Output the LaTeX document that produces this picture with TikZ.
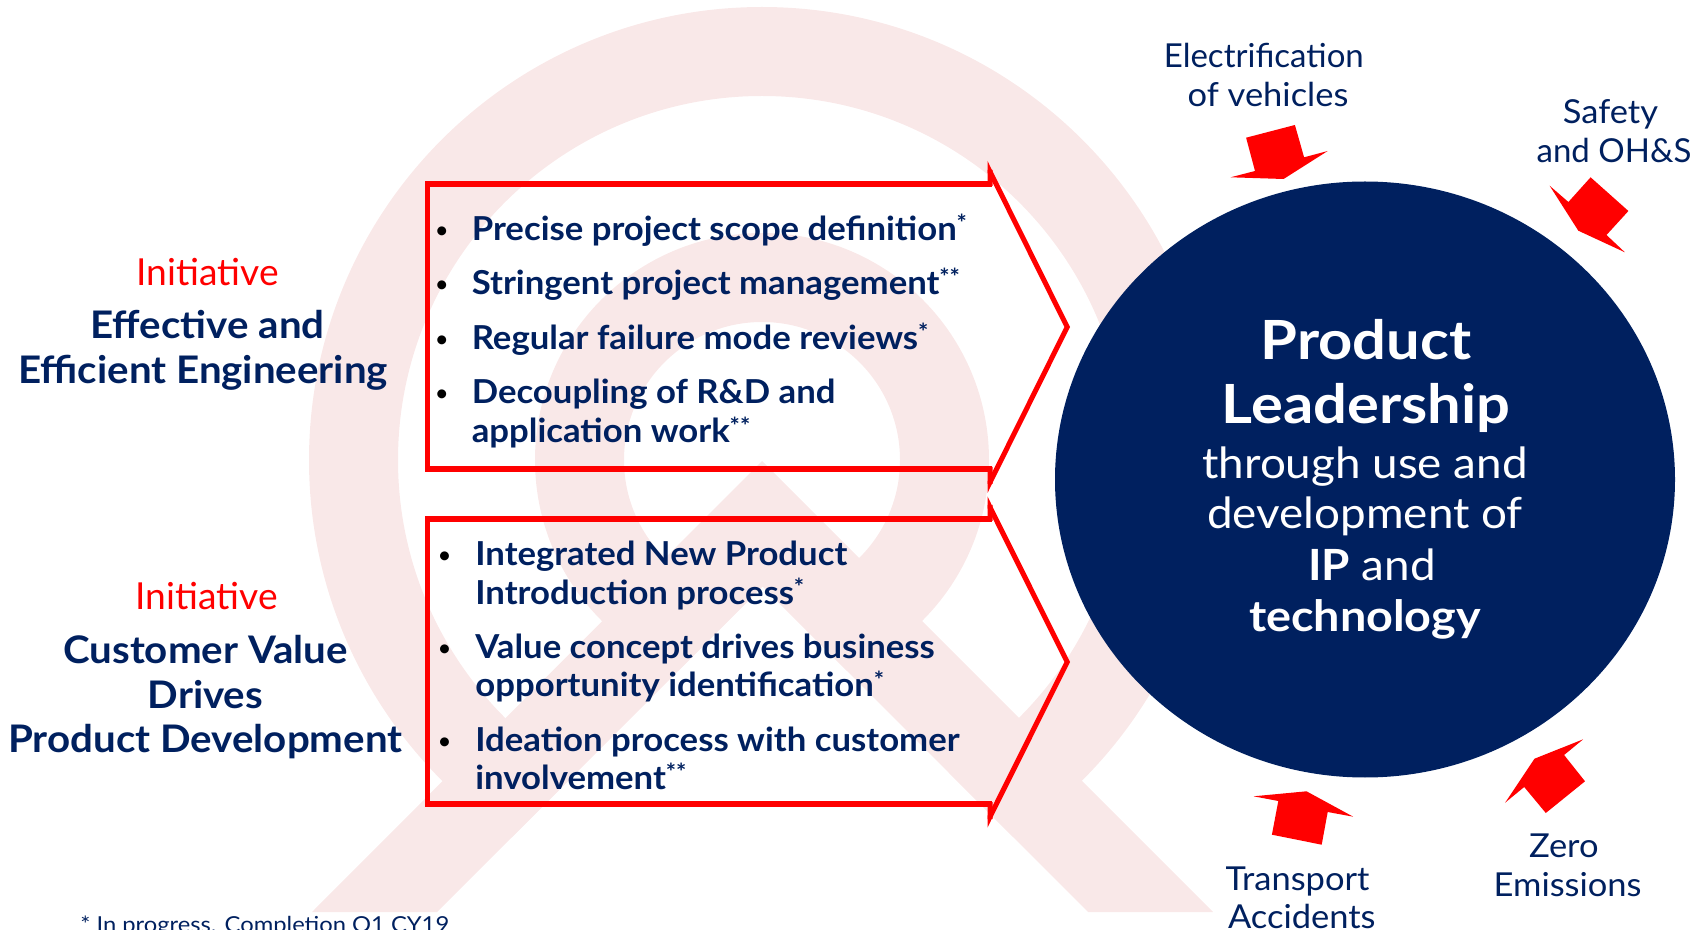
\documentclass[tikz,border=0pt]{standalone}
\usepackage{fontspec}
\setmainfont{Lato}
\newfontfamily\fItem[FakeStretch=1.052]{Lato}
\newfontfamily\fHead[FakeStretch=1.06]{Lato}
\newfontfamily\fBig[FakeStretch=1.105]{Lato}
\newfontfamily\fMid[FakeStretch=1.065]{Lato}
\newfontfamily\fTech[FakeStretch=1.087]{Lato}
\newfontfamily\fLab[FakeStretch=1.045]{Lato}
\newfontfamily\fFoot[FakeStretch=1.08]{Lato}
\definecolor{navy}{HTML}{00205F}
\definecolor{wm}{HTML}{F9E8E8}
\newcommand{\astr}[1]{\raisebox{0.26em}{\fontsize{11.5}{11.5}\selectfont #1}}
\tikzset{
 x=0.5pt,y=-0.5pt,
 lab/.style={anchor=base,inner sep=0,yshift=-0.5pt,text=navy,font=\fontsize{16.5}{18}\selectfont\fLab},
 labn/.style={lab,font=\fontsize{16.5}{18}\selectfont\rmfamily},
 head/.style={anchor=base,inner sep=0,yshift=-0.5pt,text=navy,font=\fontsize{19}{20}\selectfont\fHead\bfseries},
 init/.style={anchor=base,inner sep=0,yshift=-0.5pt,text=red,font=\fontsize{18.6}{20}\selectfont},
 item/.style={anchor=base west,inner sep=0,yshift=-0.5pt,text=navy,font=\fontsize{16.5}{18}\selectfont\fItem\bfseries},
 bul/.style={anchor=base,inner sep=0,yshift=0.6pt,text=black,font=\fontsize{12}{12}\selectfont},
 big/.style={anchor=base,inner sep=0,yshift=-0.5pt,text=white,font=\fontsize{27}{28}\selectfont\fBig\bfseries},
 mid/.style={anchor=base,inner sep=0,yshift=-0.3pt,text=white,font=\fontsize{21.5}{22}\selectfont\fMid},
 tech/.style={mid,font=\fontsize{21.5}{22}\selectfont\fTech\bfseries},
 redbar/.style={draw=red,line width=2.6pt,miter limit=10},
 wing/.style={fill=red},
 arr/.style={fill=red},
}
\begin{document}
\begin{tikzpicture}
\useasboundingbox (0,0) rectangle (1704,930);
\clip (0,0) rectangle (1704,930);
% watermark
\begin{scope}
 \clip (0,0)--(1704,0)--(1704,930)--(1106,930)--(762.5,586.5)--(419,930)--(0,930)--cycle;
 \fill[wm,even odd rule] (762,460) circle[radius=453*0.5pt] (762,460) circle[radius=364*0.5pt]
   (762,460) circle[radius=227*0.5pt] (762,460) circle[radius=138*0.5pt];
\end{scope}
\fill[wm] (762,461)--(1213,912)--(1088,912)--(762.5,586.5)--(437,912)--(312,912)--cycle;
% boxes
\coordinate (b1tr) at (992,184);\coordinate (b1tl) at (427.5,184);\coordinate (b1bl) at (427.5,469);\coordinate (b1br) at (992,469);
\draw[redbar] (b1tr)--(b1tl)--(b1bl)--(b1br);
\fill[wing] (987.5,161)--(1070,327)--(987.5,493)--(987.5,481.7)--(1064.4,327)--(987.5,172.3)--cycle;
\fill[wing] (987.5,170) rectangle (992.7,186) (987.5,467) rectangle (992.7,484);
\coordinate (b2tr) at (992,519);\coordinate (b2tl) at (427.5,519);\coordinate (b2bl) at (427.5,804);\coordinate (b2br) at (992,804);
\draw[redbar] (b2tr)--(b2tl)--(b2bl)--(b2br);
\fill[wing] (987.5,496.5)--(1070,662)--(987.5,827.5)--(987.5,816)--(1064.4,662)--(987.5,508)--cycle;
\fill[wing] (987.5,505) rectangle (992.7,521) (987.5,802) rectangle (992.7,819);
% circle
\fill[navy] (1365,479.5) ellipse[x radius=155pt,y radius=149pt];
% arrows
\fill[arr] (1246.1,137.7)--(1294.9,125)--(1304.1,157.3)--(1327.7,151)--(1283.6,179)--(1230.6,177.3)--(1255,171)--cycle;
\fill[arr] (1590.6,177.3)--(1628.4,211)--(1606.5,235)--(1624.9,252.3)--(1578.3,230.7)--(1549.6,185.7)--(1568.4,202)--cycle;
\fill[arr] (1253.5,796.3)--(1306.5,791.3)--(1353.2,816.7)--(1327.7,812)--(1321.7,844.7)--(1271.9,834.7)--(1278.3,801)--cycle;
\fill[arr] (1583.2,739.3)--(1564.1,755)--(1585,781.3)--(1545.8,813)--(1524.2,787)--(1505.1,802.7)--(1534.5,758.7)--cycle;
% left
\node[init] (i1) at (207.6,284.7) {Initiative};
\node[head] (h1) at (207.6,338) {Effective and};
\node[head] (h2) at (203.2,382.6) {Efficient Engineering};
\node[init] (i2) at (206.5,609) {Initiative};
\node[head] (h3) at (205.4,662.5) {Customer Value};
\node[head] (h4) at (205.4,707) {Drives};
\node[head] (h5) at (205.4,751.5) {Product Development};
% list 1
\node[bul] (b1) at (441.8,239.3) {•};
\node[bul] (b2) at (441.8,293.3) {•};
\node[bul] (b3) at (441.8,348.3) {•};
\node[bul] (b4) at (441.8,402.7) {•};
\node[item] (t1) at (471.4,239.3) {Precise project scope definition\astr{*}};
\node[item] (t2) at (471.4,293.3) {Stringent project management\astr{**}};
\node[item] (t3) at (471.4,348.3) {Regular failure mode reviews\astr{*}};
\node[item] (t4) at (471.4,402.7) {Decoupling of R\&D and};
\node[item] (t5) at (471.4,441.7) {application work\astr{**}};
% list 2
\node[bul] (b5) at (444.7,564.3) {•};
\node[bul] (b6) at (444.7,657.3) {•};
\node[bul] (b7) at (444.7,750.7) {•};
\node[item] (t6) at (475,564.3) {Integrated New Product};
\node[item] (t7) at (475,603.3) {Introduction process\astr{*}};
\node[item] (t8) at (475,657.3) {Value concept drives business};
\node[item] (t9) at (475,696) {opportunity identification\astr{*}};
\node[item] (t10) at (475,750.7) {Ideation process with customer};
\node[item] (t11) at (475,788.3) {involvement\astr{**}};
% circle text
\node[big] (c1) at (1366,358.8) {Product};
\node[big] (c2) at (1366,422.3) {Leadership};
\node[mid] (c3) at (1365,477.5) {through use and};
\node[mid] (c4) at (1365,528) {development of};
\node[mid] (c5) at (1372,579.5) {\textbf{IP} and};
\node[tech] (c6) at (1365,630.5) {technology};
% labels
\node[labn] (l1) at (1263.8,66.7) {Electrification};
\node[lab] (l2) at (1268,105.7) {of vehicles};
\node[lab] (l3) at (1610.5,122.7) {Safety};
\node[labn] (l4) at (1614,161.7) {and OH\&S};
\node[lab] (l5) at (1297.5,889) {Transport};
\node[lab] (l6) at (1301.8,927.7) {Accidents};
\node[lab] (l7) at (1563.8,856.7) {Zero};
\node[lab] (l8) at (1567.6,895.7) {Emissions};
\node[anchor=base west,inner sep=0,text=navy,font=\fontsize{11}{12}\selectfont\fFoot] (f) at (80,932) {* In progress. Completion Q1 CY19};
\end{tikzpicture}
\end{document}
